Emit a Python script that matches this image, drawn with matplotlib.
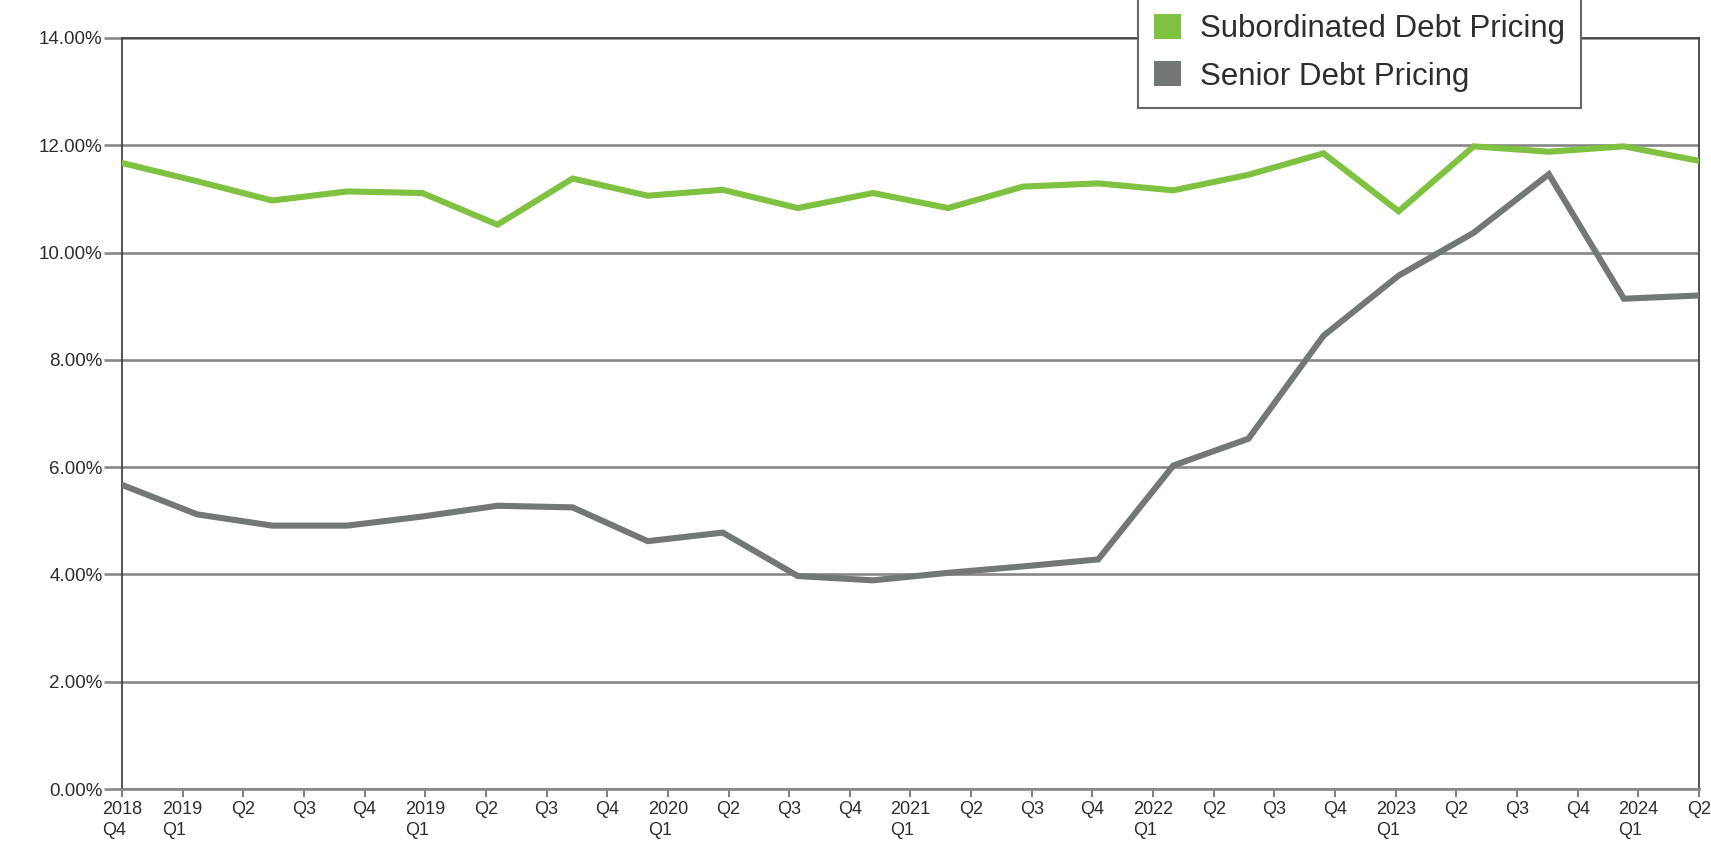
import numpy as np
import matplotlib
matplotlib.use('Agg')
import matplotlib.pyplot as plt
from matplotlib.patches import Patch

# quarterly pricing, 2018 Q4 .. 2024 Q2 (percent)
subordinated = [11.67, 11.33, 10.97, 11.14, 11.11, 10.52, 11.38, 11.06, 11.17, 10.83, 11.11,
                10.83, 11.23, 11.29, 11.16, 11.45, 11.85, 10.77, 11.98, 11.88, 11.98, 11.71]
senior = [5.67, 5.12, 4.91, 4.91, 5.08, 5.28, 5.25, 4.62, 4.78, 3.97, 3.89,
          4.03, 4.15, 4.28, 6.03, 6.53, 8.45, 9.57, 10.37, 11.46, 9.14, 9.20]

tick_labels = ['2018\nQ4', '2019\nQ1', 'Q2', 'Q3', 'Q4', '2019\nQ1', 'Q2', 'Q3', 'Q4',
               '2020\nQ1', 'Q2', 'Q3', 'Q4', '2021\nQ1', 'Q2', 'Q3', 'Q4',
               '2022\nQ1', 'Q2', 'Q3', 'Q4', '2023\nQ1', 'Q2', 'Q3', 'Q4',
               '2024\nQ1', 'Q2']
y_ticks = [0, 2, 4, 6, 8, 10, 12, 14]

GREEN = '#7fc241'
GREY = '#737877'
GRID = '#878787'

plt.rcParams['font.family'] = ['Liberation Sans', 'DejaVu Sans']

fig = plt.figure(figsize=(17.11, 8.51), dpi=100)
ax = fig.add_axes([122 / 1711, 1 - 789 / 851, (1699 - 122) / 1711, (789 - 38) / 851])

x = np.arange(len(subordinated))
ax.plot(x, subordinated, color=GREEN, lw=4.4, solid_joinstyle='miter', zorder=3)
ax.plot(x, senior, color=GREY, lw=4.4, solid_joinstyle='miter', zorder=3)

ax.set_xlim(0, len(subordinated) - 1)
ax.set_ylim(0, 14)

ax.set_yticks(y_ticks)
ax.set_yticklabels([f'{v:.2f}%' for v in y_ticks])
ax.yaxis.grid(True, color=GRID, lw=1.9)
ax.tick_params(axis='y', length=13, width=1.9, color=GRID, pad=1,
               labelsize=13.5, labelcolor='#2e2e2e')

ax.set_xticks(np.linspace(0, len(subordinated) - 1, len(tick_labels)))
ax.set_xticklabels(tick_labels, ha='center', multialignment='left', linespacing=1.3)
ax.tick_params(axis='x', length=6, width=1.2, color='#666666', pad=3,
               labelsize=13, labelcolor='#2e2e2e')

for side in ['left', 'right', 'top']:
    ax.spines[side].set_color('#444444')
    ax.spines[side].set_linewidth(1.3)
ax.spines['bottom'].set_color(GRID)
ax.spines['bottom'].set_linewidth(1.9)

# legend box runs off the top edge of the figure
handles = [Patch(facecolor=GREEN, edgecolor='none', label='Subordinated Debt Pricing'),
           Patch(facecolor=GREY, edgecolor='none', label='Senior Debt Pricing')]
leg = fig.legend(handles=handles, loc='lower left', bbox_to_anchor=(1138 / 1711, 1 - 108 / 851),
                 bbox_transform=fig.transFigure, borderaxespad=0, fontsize=22.5,
                 handlelength=0.85, handleheight=0.85, handletextpad=0.62,
                 labelspacing=0.56, borderpad=0.52, fancybox=False, framealpha=1,
                 edgecolor='#666666')
leg.get_frame().set_linewidth(1.5)
for t in leg.get_texts():
    t.set_color('#2e2e2e')

fig.savefig('out.png', dpi=100)
